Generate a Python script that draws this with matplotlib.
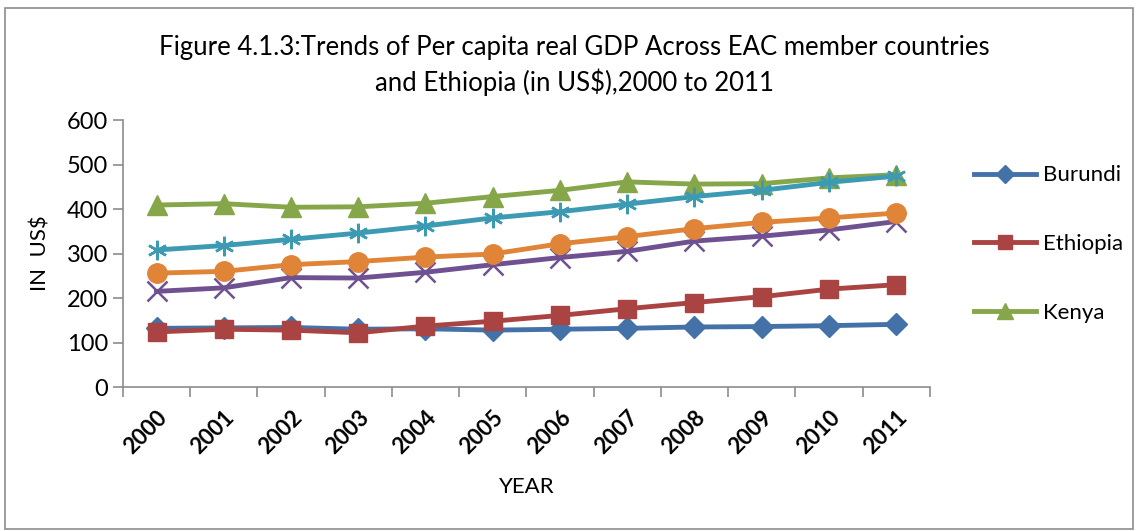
import matplotlib.pyplot as plt
from matplotlib.patches import Rectangle

plt.rcParams['font.family'] = ['Lato', 'DejaVu Sans']

years = ["2000", "2001", "2002", "2003", "2004", "2005",
         "2006", "2007", "2008", "2009", "2010", "2011"]

burundi = [132, 133, 134, 130, 131, 128, 130, 132, 135, 136, 138, 141]
ethiopia = [124, 130, 128, 122, 137, 148, 161, 176, 190, 203, 220, 230]
kenya = [409, 412, 404, 405, 413, 428, 442, 461, 456, 457, 470, 477]
rwanda = [215, 223, 246, 245, 258, 275, 291, 305, 328, 339, 353, 372]
tanzania = [308, 318, 332, 346, 362, 380, 394, 411, 428, 442, 460, 474]
uganda = [256, 260, 275, 282, 292, 299, 322, 338, 356, 370, 380, 391]

fig = plt.figure(figsize=(11.38, 5.31), dpi=100)
fig.patches.append(Rectangle((0.004, 0.004), 0.992, 0.98, transform=fig.transFigure,
                             fill=False, edgecolor="#8c8c8c", linewidth=1.2))

ax = fig.add_axes([0.108, 0.271, 0.709, 0.503])
x = list(range(len(years)))

lw = 3.5
ax.plot(x, burundi, color="#4472a8", marker="D", markersize=11, linewidth=lw, label="Burundi")
ax.plot(x, ethiopia, color="#a94442", marker="s", markersize=13, linewidth=lw, label="Ethiopia")
ax.plot(x, kenya, color="#86a64a", marker="^", markersize=14, linewidth=lw, label="Kenya")
ax.plot(x, rwanda, color="#6f5191", marker="x", markersize=14, markeredgewidth=1.8,
        linewidth=lw, label="_Rwanda")
ax.plot(x, tanzania, color="#3d9ab3", marker=(6, 2, 0), markersize=14, markeredgewidth=1.8,
        linewidth=lw, label="_Tanzania")
ax.plot(x, uganda, color="#e08438", marker="o", markersize=14, linewidth=lw, label="_Uganda")

ax.set_xlim(-0.5, len(years) - 0.5)
ax.set_ylim(0, 600)
ax.set_yticks(range(0, 601, 100))
ax.set_xticks(x)
ax.set_xticklabels(years, rotation=45, ha="right", rotation_mode="anchor",
                   fontsize=16, fontweight="bold")
ax.tick_params(axis="x", length=0, pad=14)
ax.set_xticks([i - 0.5 for i in range(len(years) + 1)], minor=True)
ax.tick_params(axis="x", which="minor", length=7, color="#8c8c8c", width=1.2)
ax.tick_params(axis="y", labelsize=17, length=7, color="#8c8c8c", width=1.2)

for side in ["top", "right"]:
    ax.spines[side].set_visible(False)
for side in ["left", "bottom"]:
    ax.spines[side].set_color("#8c8c8c")
    ax.spines[side].set_linewidth(1.2)

ax.set_xlabel("YEAR", fontsize=16, labelpad=14)
ax.set_ylabel("IN  US$", fontsize=16, labelpad=12)

fig.text(0.505, 0.91, "Figure 4.1.3:Trends of Per capita real GDP Across EAC member countries",
         ha="center", va="center", fontsize=18.5)
fig.text(0.505, 0.845, "and Ethiopia (in US$),2000 to 2011",
         ha="center", va="center", fontsize=18.5)

leg = ax.legend(loc="upper left", bbox_to_anchor=(1.03, 0.905), frameon=False,
                fontsize=16, labelspacing=2.2, handlelength=2.8, handletextpad=0.3,
                markerscale=0.8)

fig.savefig("out.png", dpi=100)
